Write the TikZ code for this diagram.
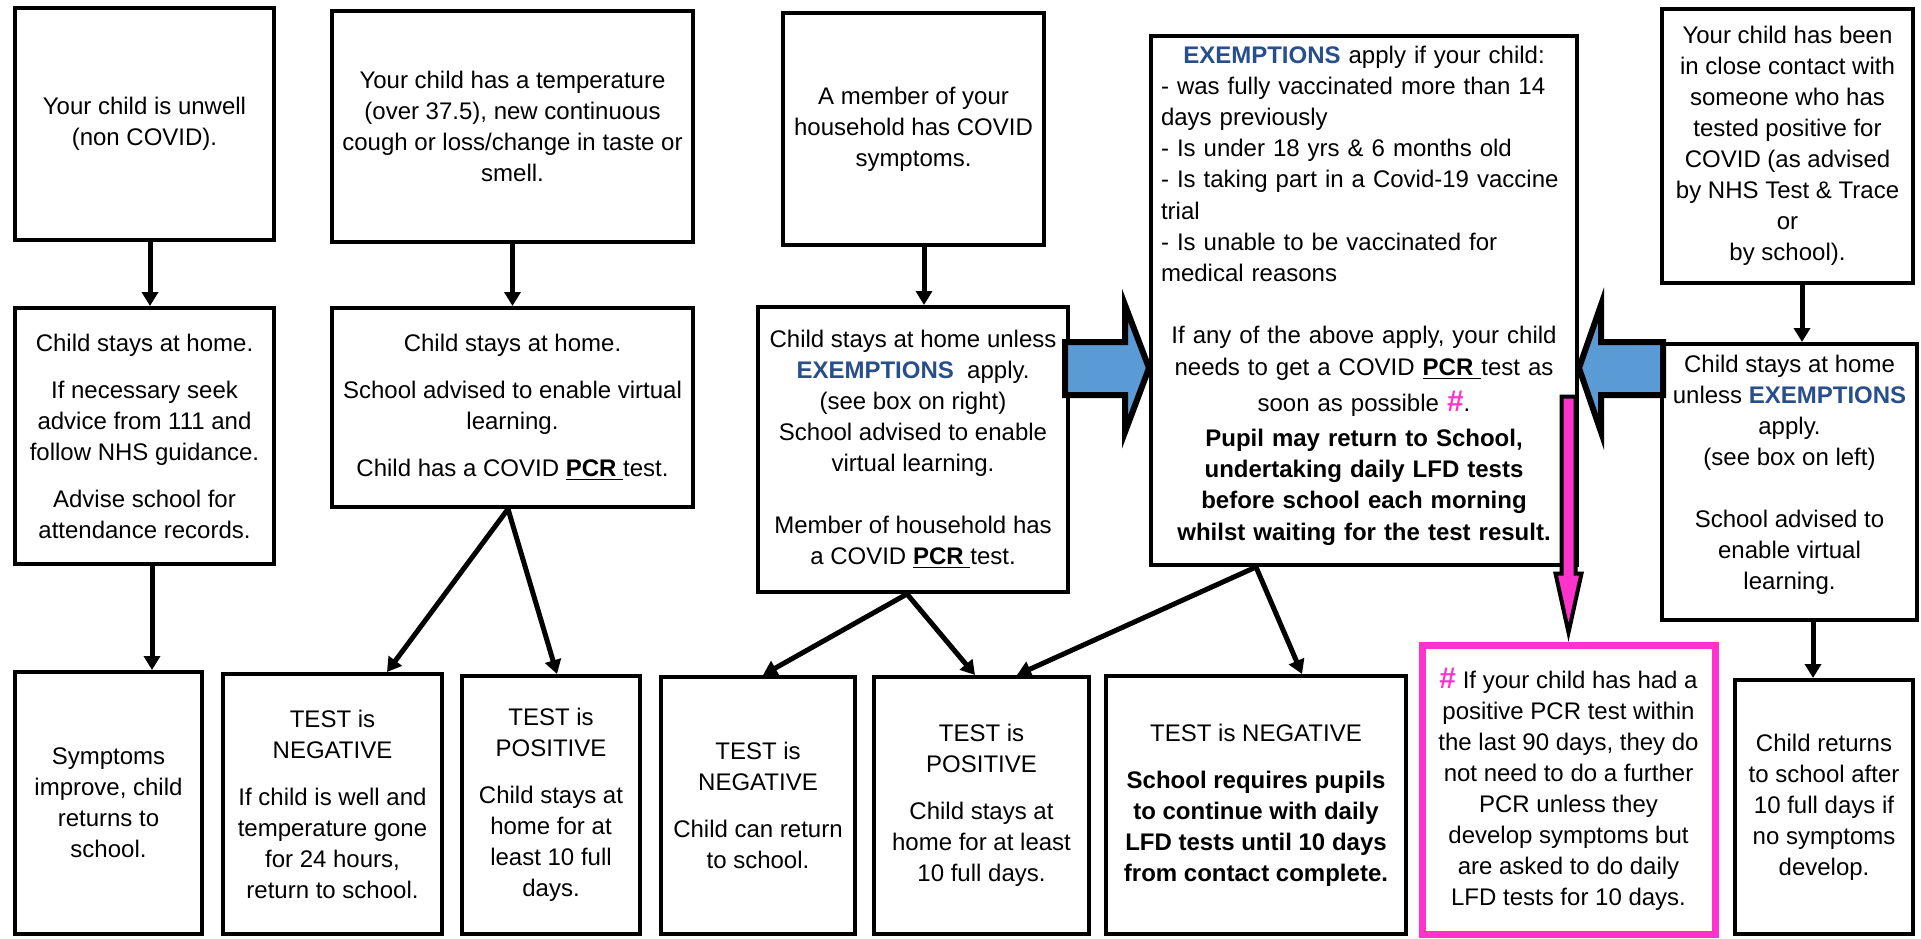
\documentclass[tikz,border=0pt]{standalone}
\usepackage{fontspec}
\setmainfont{Liberation Sans}
\usetikzlibrary{arrows.meta}

\definecolor{exnavy}{RGB}{40,78,140}
\definecolor{hashpink}{RGB}{255,51,204}
\definecolor{arrowblue}{RGB}{91,155,213}

\newcommand{\exmp}{\textcolor{exnavy}{\textbf{EXEMPTIONS}}}
\newcommand{\pcr}{\underline{\textbf{PCR}\ }}
\newcommand{\hashmark}{\textcolor{hashpink}{\textbf{\fontsize{15}{15}\selectfont\#}}}
\newcommand{\lft}[1]{\makebox[203pt][l]{#1}}

\begin{document}
\begin{tikzpicture}[x=0.5pt,y=-0.5pt,
  box/.style={draw,line width=2pt,inner sep=0pt,align=center,font=\fontsize{12}{15.5}\selectfont},
  notebox/.style={box,draw=hashpink,line width=3.5pt},
  arr/.style={line width=2.5pt,-{Triangle[width=8pt,length=7pt]}},
  bluearrow/.style={draw,line width=3pt,fill=arrowblue},
  pinkarrow/.style={draw,line width=2pt,fill=hashpink}]
  \useasboundingbox (0,0) rectangle (1921,938);

  % top row
  \node[box,minimum width=129.5pt,minimum height=116pt] (a1) at (144.5,124) {Your child is unwell\\(non COVID).};
  \node[box,minimum width=180.5pt,minimum height=115.5pt] (b1) at (512.5,126.5) {Your child has a temperature\\(over 37.5), new continuous\\cough or loss/change in taste or\\smell.};
  \node[box,minimum width=130.5pt,minimum height=116pt] (c1) at (913.5,129) {A member of your\\household has COVID\\symptoms.};
  \node[box,minimum width=213pt,minimum height=264.5pt,text width=203pt,font=\fontsize{12}{15.6}\selectfont] (exempt) at (1364,300.5) {\exmp{} apply if your child:\\
    \lft{- was fully vaccinated more than 14}\\
    \lft{days previously}\\
    \lft{- Is under 18 yrs \& 6 months old}\\
    \lft{- Is taking part in a Covid-19 vaccine}\\
    \lft{trial}\\
    \lft{- Is unable to be vaccinated for}\\
    \lft{medical reasons}\\[15.6pt]
    If any of the above apply, your child\\
    needs to get a COVID \pcr test as\\[2.5pt]
    soon as possible \hashmark.\\[2pt]
    \textbf{Pupil may return to School,}\\
    \textbf{undertaking daily LFD tests}\\
    \textbf{before school each morning}\\
    \textbf{whilst waiting for the test result.}\\[-8pt]
    \mbox{}};
  \node[box,minimum width=125.5pt,minimum height=137pt] (e1) at (1787.5,146) {Your child has been\\in close contact with\\someone who has\\tested positive for\\COVID (as advised\\by NHS Test \& Trace\\or\\by school).};

  % middle row
  \node[box,minimum width=129.5pt,minimum height=128pt] (a2) at (144.5,436) {Child stays at home.\\[8pt]If necessary seek\\advice from 111 and\\follow NHS guidance.\\[8pt]Advise school for\\attendance records.};
  \node[box,minimum width=180.5pt,minimum height=99.5pt] (b2) at (512.5,407.5) {Child stays at home.\\[8pt]School advised to enable virtual\\learning.\\[8pt]Child has a COVID \pcr test.};
  \node[box,minimum width=155pt,minimum height=142.5pt] (c2) at (913,449.5) {Child stays at home unless\\\exmp\ \ apply.\\(see box on right)\\School advised to enable\\virtual learning.\\[15.5pt]Member of household has\\a COVID \pcr test.};
  \node[box,minimum width=127.5pt,minimum height=138pt] (e2) at (1789.5,482) {Child stays at home\\unless \exmp\\apply.\\(see box on left)\\[15.5pt]School advised to\\enable virtual\\learning.\\[-6pt]\mbox{}};

  % bottom row
  \node[box,minimum width=93.5pt,minimum height=131pt] (a3) at (108.5,803) {Symptoms\\improve, child\\returns to\\school.};
  \node[box,minimum width=109.5pt,minimum height=130pt] (b3a) at (332.5,804) {TEST is\\NEGATIVE\\[8pt]If child is well and\\temperature gone\\for 24 hours,\\return to school.};
  \node[box,minimum width=89pt,minimum height=129pt] (b3b) at (551,805) {TEST is\\POSITIVE\\[8pt]Child stays at\\home for at\\least 10 full\\days.};
  \node[box,minimum width=97pt,minimum height=128.5pt] (c3a) at (758,805.5) {TEST is\\NEGATIVE\\[8pt]Child can return\\to school.};
  \node[box,minimum width=107.5pt,minimum height=128.5pt] (c3b) at (981.5,805.5) {TEST is\\POSITIVE\\[8pt]Child stays at\\home for at least\\10 full days.};
  \node[box,minimum width=150pt,minimum height=129pt] (d3) at (1256,805) {TEST is NEGATIVE\\[8pt]\textbf{School requires pupils}\\\textbf{to continue with daily}\\\textbf{LFD tests until 10 days}\\\textbf{from contact complete.}};
  \node[notebox,minimum width=146.5pt,minimum height=144.5pt] (hashnote) at (1568.5,789.5) {\hashmark\ If your child has had a\\positive PCR test within\\the last 90 days, they do\\not need to do a further\\PCR unless they\\develop symptoms but\\are asked to do daily\\LFD tests for 10 days.};
  \node[box,minimum width=89pt,minimum height=127pt] (e3) at (1824,807) {Child returns\\to school after\\10 full days if\\no symptoms\\develop.};

  % connectors
  \draw[arr] ([xshift=2.75pt]a1.south) -- ([xshift=2.75pt]a2.north);
  \draw[arr] ([xshift=3.75pt]a2.south) -- ([xshift=21.75pt]a3.north);
  \draw[arr] (b1) -- (b2);
  \path[arr] ([xshift=-2.25pt]b2.south) edge ([xshift=27.25pt]b3a.north)
                                      edge ([xshift=3pt]b3b.north);
  \draw[arr] ([xshift=5.25pt]c1.south) -- ([xshift=5.5pt]c2.north);
  \path[arr] ([xshift=-3pt]c2.south) edge ([xshift=2.5pt]c3a.north)
                                   edge ([xshift=-3.25pt]c3b.north);
  \path[arr] ([xshift=-54pt]exempt.south) edge ([xshift=17.75pt]c3b.north)
                                        edge ([xshift=23pt]d3.north);
  \draw[arr] ([xshift=7.25pt]e1.south) -- ([xshift=6.25pt]e2.north);
  \draw[arr] ([xshift=11.75pt]e2.south) -- ([xshift=-5.5pt]e3.north);

  % block arrows
  \draw[bluearrow] ([yshift=-33.75pt]exempt.west) -- ++(-24,-63) -- ++(0,37) -- ++(-60,0)
    -- ++(0,53) -- ++(60,0) -- ++(0,37) -- cycle;
  \draw[bluearrow] ([yshift=-33.75pt]exempt.east) -- ++(22,-63) -- ++(0,37) -- ++(62,0)
    -- ++(0,53) -- ++(-62,0) -- ++(0,37) -- cycle;
  \draw[pinkarrow] ([yshift=4.5pt]hashnote.north) -- ++(-13,-59) -- ++(6,0) -- ++(0,-177)
    -- ++(14,0) -- ++(0,177) -- ++(6,0) -- cycle;
\end{tikzpicture}
\end{document}
